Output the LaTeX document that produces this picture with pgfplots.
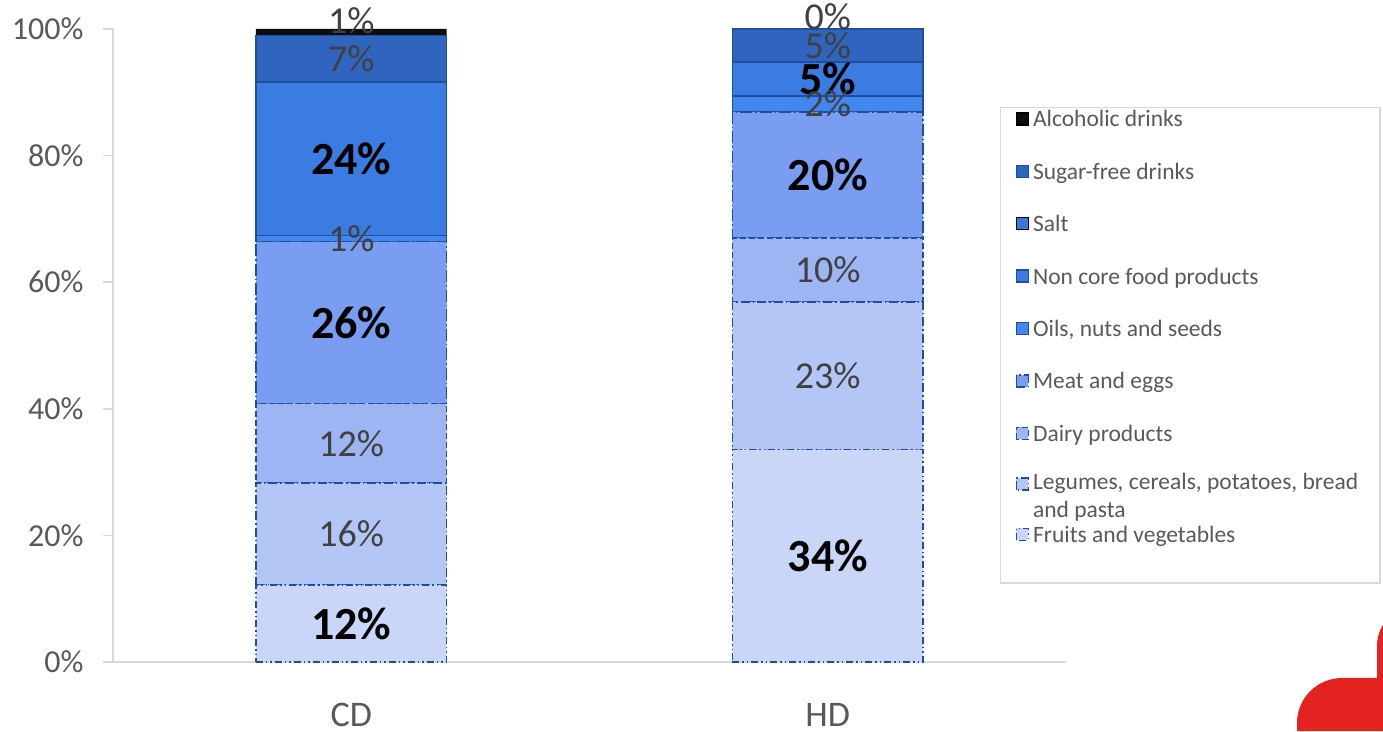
\documentclass[border=0pt]{standalone}
\usepackage{pgfplots}
\usepackage{pgfplotstable}
\pgfplotsset{compat=1.18}
\usepackage{fontspec}
\setmainfont{Carlito}

\definecolor{axisgrey}{HTML}{D9D9D9}
\definecolor{tickgrey}{HTML}{595959}
\definecolor{lblgrey}{HTML}{404040}
\definecolor{edgeblue}{HTML}{1F4E9F}
\definecolor{cfruit}{HTML}{C9D6F8}
\definecolor{clegume}{HTML}{B4C6F6}
\definecolor{cdairy}{HTML}{9DB5F2}
\definecolor{cmeat}{HTML}{799DF0}
\definecolor{coils}{HTML}{4287EE}
\definecolor{cnoncore}{HTML}{3B7CE2}
\definecolor{csalt}{HTML}{3A78DA}
\definecolor{csugar}{HTML}{2F65BE}
\definecolor{calcohol}{HTML}{0D0D0D}
\definecolor{logored}{HTML}{E42320}

% share of each food group (%), l... = label printed on the segment
% (HD alcohol is ~0, kept a hair above zero so its 0% label is drawn)
\pgfplotstableread{
x fruit legume dairy meat oils noncore salt sugar alcohol lfruit llegume ldairy lmeat loils lnoncore lsugar lalcohol
0 12.2 16.1 12.5 25.6 0.95 24.3 0 7.3 1.05 12 16 12 26 1 24 7 1
1 33.6 23.3 10.1 19.9 2.5  5.4  0 5.2 0.01 34 23 10 20 2 5  5 0
}\diet

\newcommand\lstrut{\rule[-6bp]{0pt}{18bp}}

\pgfplotsset{
  seg/.style={fill=#1, draw=edgeblue, line width=1.5bp},
  % stacked bars: the node sits mid-segment once anchored at its centre
  seglab/.style={
    point meta=explicit,
    nodes near coords={\pgfmathprintnumber{\pgfplotspointmeta}\%},
    every node near coord/.append style={anchor=center},
  },
  reglab/.style={every node near coord/.append style={
      font=\fontsize{38bp}{40bp}\selectfont, text=lblgrey}},
  boldlab/.style={every node near coord/.append style={
      font=\fontsize{46bp}{48bp}\selectfont\bfseries, text=black}},
}

\begin{document}
\begin{tikzpicture}[x=1bp,y=1bp]
\useasboundingbox (0,0) rectangle (1383,731);
\begin{axis}[
  at={(113bp,69bp)}, anchor=south west,
  scale only axis, width=953bp, height=633bp,
  ybar stacked, bar width=0.4,
  xmin=-0.5, xmax=1.5, ymin=0, ymax=100,
  enlargelimits=false, clip=false,
  axis lines=left,
  axis line style={-, draw=axisgrey, line width=1.5bp},
  xtick={0,1}, xticklabels={CD,HD},
  xtick style={draw=none},
  xticklabel style={font=\fontsize{36bp}{38bp}\selectfont, text=tickgrey, yshift=-28bp},
  ytick={0,20,...,100},
  ytick style={draw=axisgrey, line width=1.5bp},
  major tick length=10bp, tick align=outside,
  yticklabel={\pgfmathprintnumber{\tick}\%},
  yticklabel style={font=\fontsize{32bp}{34bp}\selectfont, text=tickgrey, xshift=-16bp},
  /pgf/number format/assume math mode=true,
  legend image code/.code={\draw[#1] (0bp,-5.5bp) rectangle (12bp,6.5bp); \path (16bp,0bp);},
  reverse legend,
  legend cell align=left,
  legend style={at={(0.9307,0.8768)}, anchor=north west,
    draw=axisgrey, line width=1.2bp, fill=white,
    font=\fontsize{23.5bp}{28bp}\selectfont, text=tickgrey,
    inner xsep=15bp, inner ysep=3bp,
    row sep=34.6bp,
    nodes={inner sep=0bp}},
]
\addlegendimage{empty legend}
\addlegendentry{\raisebox{0pt}[-8bp][0pt]{}}
\addplot[seg=cfruit, dash pattern=on 7bp off 3bp on 1.5bp off 3bp on 1.5bp off 3bp,
  seglab, boldlab] table[x=x, y=fruit, meta=lfruit] {\diet};
\addlegendentry{\lstrut Fruits and vegetables}
\addplot[seg=clegume, dash pattern=on 9bp off 3bp on 1.5bp off 3bp,
  seglab, reglab] table[x=x, y=legume, meta=llegume] {\diet};
\addlegendentry{\lstrut\smash{\parbox[t]{332bp}{Legumes, cereals, potatoes, bread\\and pasta}}}
\addplot[seg=cdairy, dash pattern=on 6bp off 3bp,
  seglab, reglab] table[x=x, y=dairy, meta=ldairy] {\diet};
\addlegendentry{\lstrut Dairy products}
\addplot[seg=cmeat, dash pattern=on 12bp off 3bp on 1.5bp off 3bp,
  seglab, boldlab] table[x=x, y=meat, meta=lmeat] {\diet};
\addlegendentry{\lstrut Meat and eggs}
\addplot[seg=coils, seglab, reglab] table[x=x, y=oils, meta=loils] {\diet};
\addlegendentry{\lstrut Oils, nuts and seeds}
\addplot[seg=cnoncore, seglab, boldlab] table[x=x, y=noncore, meta=lnoncore] {\diet};
\addlegendentry{\lstrut Non core food products}
\addplot[fill=csalt, draw=none] table[x=x, y=salt] {\diet};
\addlegendentry{\lstrut Salt}
\addplot[seg=csugar, seglab, reglab] table[x=x, y=sugar, meta=lsugar] {\diet};
\addlegendentry{\lstrut Sugar-free drinks}
\addplot[fill=calcohol, draw=none,
  seglab, reglab, every node near coord/.append style={yshift=12bp}]
  table[x=x, y=alcohol, meta=lalcohol] {\diet};
\addlegendentry{\lstrut Alcoholic drinks}
\end{axis}
% corner of the logo
\fill[logored] (1297,0) -- (1297,8) arc[start angle=180, end angle=90, radius=45]
  -- (1377,53) -- (1377,85) arc[start angle=180, end angle=140, radius=40]
  -- (1383,0) -- cycle;
\end{tikzpicture}
\end{document}
